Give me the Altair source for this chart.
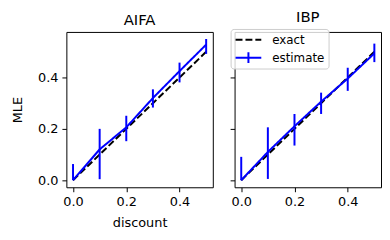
import altair as alt
import pandas as pd

# ---- data ----
discount = [0.0, 0.1, 0.2, 0.3, 0.4, 0.5]
exact = [0.0, 0.1, 0.2, 0.3, 0.4, 0.5]
aifa_est = [0.0, 0.12, 0.206, 0.32, 0.425, 0.528]
aifa_low = [0.0, 0.004, 0.152, 0.283, 0.381, 0.492]
aifa_high = [0.063, 0.2, 0.251, 0.354, 0.458, 0.55]
ibp_est = [0.0, 0.11, 0.21, 0.306, 0.396, 0.494]
ibp_low = [0.0, 0.005, 0.135, 0.258, 0.348, 0.46]
ibp_high = [0.091, 0.206, 0.258, 0.341, 0.438, 0.532]
titles = ["AIFA", "IBP"]
series = ["exact", "estimate"]
x_ticks = [0.0, 0.2, 0.4]
y_ticks = [0.0, 0.2, 0.4]

FONT = "DejaVu Sans"
W, H = 148, 157


def panel(title, est, low, high, first):
    exact_df = pd.DataFrame({"discount": discount, "MLE": exact, "series": series[0]})
    est_df = pd.DataFrame({"discount": discount, "MLE": est, "low": low,
                           "high": high, "series": series[1]})

    x_scale = alt.Scale(domain=[-0.025, 0.525], nice=False, zero=False)
    y_scale = alt.Scale(domain=[-0.0275, 0.5775], nice=False, zero=False)
    x_axis = alt.Axis(values=x_ticks, format=".1f",
                      title="discount" if first else None, titlePadding=8)
    if first:
        y_axis = alt.Axis(values=y_ticks, format=".1f", title="MLE", titlePadding=13)
    else:
        y_axis = alt.Axis(values=y_ticks, labels=False, title=None)

    if first:
        leg = None
    else:
        leg = alt.Legend(
            title=None, orient="none", legendX=-4, legendY=-3,
            fillColor="rgba(255,255,255,0.8)", strokeColor="#cccccc",
            cornerRadius=3, padding=4,
            labelFont=FONT, labelFontSize=12, labelColor="black",
            labelOffset=10,
            symbolType={"expr": "datum.value === 'estimate' ? 'M-1,0L1,0M0,-0.42L0,0.42' : 'M-1,0L1,0'"},
            symbolSize=676, symbolStrokeWidth=2,
            symbolFillColor="transparent",
            clipHeight=14, rowPadding=4,
        )

    color = alt.Color("series:N", scale=alt.Scale(domain=series, range=["black", "blue"]),
                      legend=leg)
    dash = alt.StrokeDash("series:N", scale=alt.Scale(domain=series, range=[[7, 3], [1, 0]]),
                          legend=leg)

    x = alt.X("discount:Q", scale=x_scale, axis=x_axis)
    y = alt.Y("MLE:Q", scale=y_scale, axis=y_axis)

    exact_line = alt.Chart(exact_df).mark_line(strokeWidth=2).encode(
        x=x, y=y, color=color, strokeDash=dash)
    est_line = alt.Chart(est_df).mark_line(strokeWidth=2).encode(
        x=x, y=y, color=color, strokeDash=dash)
    bars = alt.Chart(est_df).mark_rule(strokeWidth=2, color="blue").encode(
        x=alt.X("discount:Q", scale=x_scale),
        y=alt.Y("low:Q", scale=y_scale),
        y2="high:Q")

    return alt.layer(exact_line, est_line, bars).properties(
        width=W, height=H,
        title=alt.TitleParams(title, font=FONT, fontSize=15, fontWeight="normal",
                              color="black", anchor="middle", offset=-8,
                              baseline="alphabetic"),
    )


left = panel(titles[0], aifa_est, aifa_low, aifa_high, True)
right = panel(titles[1], ibp_est, ibp_low, ibp_high, False)

chart = alt.hconcat(left, right, spacing=15).resolve_scale(
    color="independent", strokeDash="independent"
).properties(
    padding={"left": 3, "top": 0, "right": 0, "bottom": 0}
).configure_view(
    stroke="black", strokeWidth=1
).configure_axis(
    labelFont=FONT, labelFontSize=13, labelColor="black",
    titleFont=FONT, titleFontSize=13, titleFontWeight="normal", titleColor="black",
    tickColor="black", tickSize=4.5, tickWidth=1, labelPadding=4,
    domain=False, grid=False,
)

chart.save("out.html", embed_options={"renderer": "svg", "actions": False})
